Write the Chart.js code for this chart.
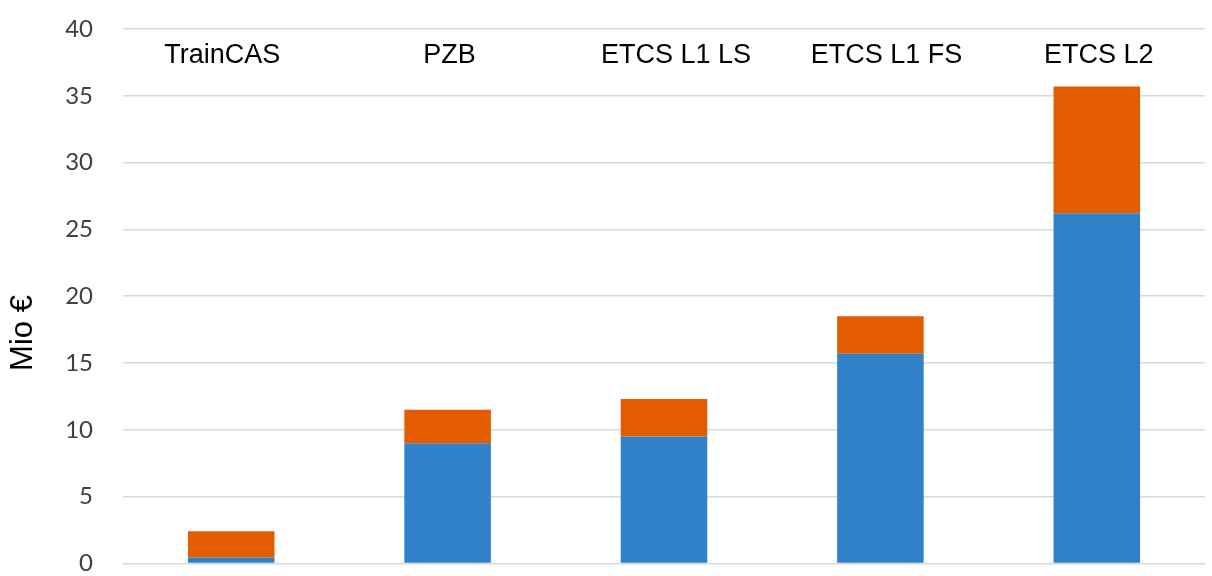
<!DOCTYPE html>
<html><head><meta charset="utf-8">
<script src="https://cdn.jsdelivr.net/npm/chart.js@4"></script>
<style>html,body{margin:0;padding:0;background:#fff}#wrap{width:1212px;height:576px;position:relative}</style>
</head><body><div id="wrap"><canvas id="c"></canvas></div>
<script>
const categories = ['TrainCAS', 'PZB', 'ETCS L1 LS', 'ETCS L1 FS', 'ETCS L2'];
const blueValues = [0.45, 9.0, 9.5, 15.7, 26.2];
const orangeValues = [1.95, 2.5, 2.8, 2.8, 9.5];
const yTickMin = 0;
const yTickMax = 40;
const yTickStep = 5;
const yAxisTitle = 'Mio €';
const categoryLabelLevel = 38;

const categoryLabelPlugin = {
  id: 'categoryLabels',
  afterDatasetsDraw(chart) {
    const ctx = chart.ctx, xs = chart.scales.x, ys = chart.scales.y;
    // small horizontal nudges of the label text boxes, as in the original slide
    const nudge = [-9, 2, 12, 6, 2];
    ctx.save();
    ctx.font = '27px "Liberation Sans", Arial, sans-serif';
    ctx.fillStyle = '#000';
    ctx.textAlign = 'center';
    ctx.textBaseline = 'middle';
    categories.forEach((c, i) => ctx.fillText(c, xs.getPixelForValue(i) + nudge[i], ys.getPixelForValue(categoryLabelLevel)));
    ctx.restore();
  }
};
const yTitlePlugin = {
  id: 'yTitle',
  afterDraw(chart) {
    const ctx = chart.ctx;
    ctx.save();
    ctx.translate(23, 333);
    ctx.rotate(-Math.PI / 2);
    ctx.font = '31px "Liberation Sans", Arial, sans-serif';
    ctx.fillStyle = '#000';
    ctx.textAlign = 'center';
    ctx.textBaseline = 'middle';
    ctx.fillText(yAxisTitle, 0, 0);
    ctx.restore();
  }
};

new Chart(document.getElementById('c'), {
  type: 'bar',
  data: {
    labels: categories,
    datasets: [
      { label: 'A', data: blueValues, backgroundColor: '#3181C9', barPercentage: 0.8, categoryPercentage: 0.5 },
      { label: 'B', data: orangeValues, backgroundColor: '#E35D00', barPercentage: 0.8, categoryPercentage: 0.5 }
    ]
  },
  options: {
    responsive: true,
    maintainAspectRatio: false,
    animation: false,
    layout: { padding: { top: 29, right: 7, bottom: 0, left: 0 } },
    plugins: { legend: { display: false }, tooltip: { enabled: false } },
    scales: {
      x: { stacked: true, display: false },
      y: {
        stacked: true, min: yTickMin, max: yTickMax,
        ticks: { stepSize: yTickStep, padding: 0, color: '#404040', font: { family: 'Lato', size: 24, lineHeight: 1.05 } },
        grid: { color: '#d9d9d9', lineWidth: 1.5, drawTicks: true, tickLength: 30, tickColor: 'rgba(0,0,0,0)' },
        border: { display: false },
        afterFit(s) { s.width = 123; }
      }
    }
  },
  plugins: [categoryLabelPlugin, yTitlePlugin]
});
</script></body></html>
